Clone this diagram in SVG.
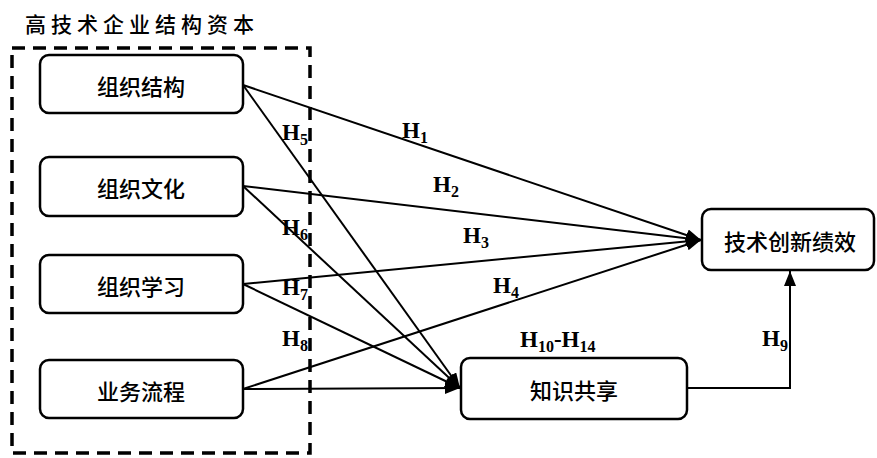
<svg xmlns="http://www.w3.org/2000/svg" width="877" height="458" viewBox="0 0 877 458">
  <style>
    .box { fill: #fff; stroke: #000; stroke-width: 2.5; }
    .lbl { font-family: "Noto Sans CJK SC", "Noto Sans", sans-serif; font-size: 22px; font-weight: 500; fill: #000; text-anchor: middle; dominant-baseline: central; }
    .hyp { font-family: "Liberation Serif", "Times New Roman", serif; font-size: 23px; font-weight: bold; fill: #000; }
    .sub { font-size: 16px; }
    .link { fill: none; stroke: #000; stroke-width: 2; }
  </style>
  <defs>
    <marker id="arrow" markerUnits="userSpaceOnUse" markerWidth="16" markerHeight="14" refX="15" refY="6" orient="auto">
      <path d="M0,0 L15,6 L0,12 Z" fill="#000"/>
    </marker>
  </defs>

  <rect width="877" height="458" fill="#fff"/>

  <!-- group title and dashed frame -->
  <text x="25" y="23" font-family="'Noto Sans CJK SC', sans-serif" font-size="21" font-weight="500" letter-spacing="5" dominant-baseline="central">高技术企业结构资本</text>
  <rect id="frame" x="12" y="48" width="298" height="405" fill="none" stroke="#000" stroke-width="3.5" stroke-dasharray="13 8"/>

  <!-- connectors -->
  <g id="connectors">
    <path class="link" d="M243,85 L701,240" marker-end="url(#arrow)"/>
    <path class="link" d="M243,186 L701,240" marker-end="url(#arrow)"/>
    <path class="link" d="M243,284 L701,240" marker-end="url(#arrow)"/>
    <path class="link" d="M243,389 L701,240" marker-end="url(#arrow)"/>
    <path class="link" d="M243,85 L460,388" marker-end="url(#arrow)"/>
    <path class="link" d="M243,186 L460,388" marker-end="url(#arrow)"/>
    <path class="link" d="M243,284 L460,388" marker-end="url(#arrow)"/>
    <path class="link" d="M243,389 L460,388" marker-end="url(#arrow)"/>
    <path class="link" d="M687,388 H790 V271" marker-end="url(#arrow)"/>

    <text class="hyp" x="402" y="138">H<tspan class="sub" dy="5">1</tspan></text>
    <text class="hyp" x="433" y="192">H<tspan class="sub" dy="5">2</tspan></text>
    <text class="hyp" x="463" y="243">H<tspan class="sub" dy="5">3</tspan></text>
    <text class="hyp" x="493" y="293">H<tspan class="sub" dy="5">4</tspan></text>
    <text class="hyp" x="282" y="140">H<tspan class="sub" dy="5">5</tspan></text>
    <text class="hyp" x="282" y="235">H<tspan class="sub" dy="5">6</tspan></text>
    <text class="hyp" x="282" y="295">H<tspan class="sub" dy="5">7</tspan></text>
    <text class="hyp" x="282" y="346">H<tspan class="sub" dy="5">8</tspan></text>
    <text class="hyp" x="762" y="346">H<tspan class="sub" dy="5">9</tspan></text>
    <text class="hyp" x="520" y="347">H<tspan class="sub" dy="5">10</tspan><tspan dy="-5">-H</tspan><tspan class="sub" dy="5">14</tspan></text>
  </g>

  <!-- nodes -->
  <g id="org-structure">
    <rect class="box" x="40" y="55" width="203" height="58" rx="9"/>
    <text class="lbl" x="141" y="85">组织结构</text>
  </g>
  <g id="org-culture">
    <rect class="box" x="40" y="157" width="203" height="59" rx="9"/>
    <text class="lbl" x="141" y="187">组织文化</text>
  </g>
  <g id="org-learning">
    <rect class="box" x="40" y="255" width="203" height="58" rx="9"/>
    <text class="lbl" x="141" y="285">组织学习</text>
  </g>
  <g id="business-process">
    <rect class="box" x="40" y="360" width="203" height="58" rx="9"/>
    <text class="lbl" x="141" y="390">业务流程</text>
  </g>
  <g id="innovation-performance">
    <rect class="box" x="702" y="209" width="172" height="61" rx="9"/>
    <text class="lbl" x="790" y="240">技术创新绩效</text>
  </g>
  <g id="knowledge-sharing">
    <rect class="box" x="461" y="358" width="226" height="61" rx="9"/>
    <text class="lbl" x="574" y="389">知识共享</text>
  </g>
</svg>
